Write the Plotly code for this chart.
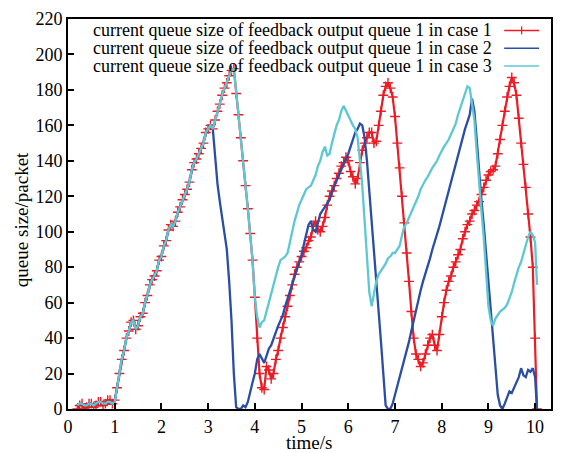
import plotly.graph_objects as go

# ---------------- data ----------------
TIME = [0.20, 0.25, 0.30, 0.35, 0.40, 0.45, 0.50, 0.55, 0.60, 0.65, 0.70, 0.75, 0.80, 0.85, 0.90, 0.95, 1.00,
        1.05, 1.10, 1.15, 1.20, 1.25, 1.30, 1.35, 1.40, 1.45, 1.50, 1.55, 1.60, 1.65, 1.70, 1.75, 1.80, 1.85, 1.90, 1.95, 2.00,
        2.05, 2.10, 2.15, 2.20, 2.25, 2.30, 2.35, 2.40, 2.45, 2.50, 2.55, 2.60, 2.65, 2.70, 2.75, 2.80, 2.85, 2.90, 2.95, 3.00,
        3.05, 3.10, 3.15, 3.20, 3.25, 3.30, 3.35, 3.40, 3.45, 3.50, 3.55, 3.60, 3.65, 3.70, 3.75, 3.80, 3.85, 3.90, 3.95, 4.00,
        4.05, 4.10, 4.15, 4.20, 4.25, 4.30, 4.35, 4.40, 4.45, 4.50, 4.55, 4.60, 4.65, 4.70, 4.75, 4.80, 4.85, 4.90, 4.95, 5.00,
        5.05, 5.10, 5.15, 5.20, 5.25, 5.30, 5.35, 5.40, 5.45, 5.50, 5.55, 5.60, 5.65, 5.70, 5.75, 5.80, 5.85, 5.90, 5.95, 6.00,
        6.05, 6.10, 6.15, 6.20, 6.25, 6.30, 6.35, 6.40, 6.45, 6.50, 6.55, 6.60, 6.65, 6.70, 6.75, 6.80, 6.85, 6.90, 6.95, 7.00,
        7.05, 7.10, 7.15, 7.20, 7.25, 7.30, 7.35, 7.40, 7.45, 7.50, 7.55, 7.60, 7.65, 7.70, 7.75, 7.80, 7.85, 7.90, 7.95, 8.00,
        8.05, 8.10, 8.15, 8.20, 8.25, 8.30, 8.35, 8.40, 8.45, 8.50, 8.55, 8.60, 8.65, 8.70, 8.75, 8.80, 8.85, 8.90, 8.95, 9.00,
        9.05, 9.10, 9.15, 9.20, 9.25, 9.30, 9.35, 9.40, 9.45, 9.50, 9.55, 9.60, 9.65, 9.70, 9.75, 9.80, 9.85, 9.90, 9.95, 10.00,
        10.04]

CASE1 = [0, 2, 3, 0, 1, 3, 3, 1, 2, 4, 4, 2, 3, 5, 5, 3, 5,
         12, 20, 28, 33, 40, 44, 49, 50, 45, 47, 52, 54, 60, 64, 70, 73, 75, 78, 84, 86,
         92, 95, 101, 104, 103, 106, 111, 114, 118, 121, 124, 128, 135, 139, 141, 144, 147, 150, 156, 158,
         160, 158, 163, 168, 172, 177, 181, 184, 188, 191, 192, 178, 166, 153, 140, 126, 113, 99, 84, 63,
         40, 20, 12, 11, 24, 22, 17, 20, 28, 33, 40, 46, 52, 58, 64, 70, 76, 80, 83, 86,
         89, 91, 95, 97, 103, 106, 101, 100, 103, 108, 115, 120, 123, 126, 130, 133, 137, 139, 142, 140,
         134, 131, 127, 130, 139, 146, 150, 153, 156, 156, 150, 151, 160, 168, 177, 182, 184, 181, 176, 165,
         150, 136, 120, 105, 88, 72, 55, 40, 31, 28, 24, 26, 31, 36, 40, 42, 36, 33, 42, 52,
         60, 67, 72, 75, 80, 83, 87, 90, 96, 100, 104, 106, 110, 112, 115, 117, 121, 125, 129, 132,
         134, 135, 137, 144, 152, 160, 168, 176, 182, 187, 184, 177, 164, 150, 138, 125, 110, 97, 80, 40,
         0]

CASE2 = [2, 3, 3, 2, 2, 3, 3, 2, 3, 4, 4, 3, 3, 4, 4, 3, 4,
         12, 20, 28, 33, 40, 44, 49, 50, 45, 47, 52, 54, 60, 64, 70, 73, 75, 78, 84, 86,
         92, 95, 101, 104, 103, 106, 111, 114, 118, 121, 124, 128, 135, 139, 141, 144, 147, 150, 156, 158,
         160, 158, 140, 127, 117, 108, 100, 90, 72, 50, 20, 1, 0, 0, 2, 1, 4, 10, 15, 20,
         28, 31, 28, 26, 30, 34, 36, 40, 44, 47, 50, 53, 58, 62, 66, 70, 74, 78, 83, 87,
         93, 98, 104, 106, 101, 100, 105, 110, 112, 114, 116, 118, 122, 126, 129, 132, 135, 137, 140, 144,
         148, 152, 156, 158, 161, 160, 153, 140, 122, 106, 88, 71, 55, 38, 20, 2, 0, 0, 3, 8,
         13, 18, 22, 27, 33, 38, 44, 50, 56, 62, 67, 72, 76, 80, 85, 90, 94, 98, 103, 108,
         113, 118, 123, 128, 134, 139, 144, 149, 153, 158, 162, 166, 175, 168, 152, 133, 118, 104, 88, 70,
         53, 36, 22, 8, 2, 0, 3, 6, 10, 9, 12, 14, 18, 23, 19, 18, 22, 21, 23, 18,
         0]

CASE3 = [2, 3, 3, 2, 2, 3, 3, 2, 3, 4, 4, 3, 3, 4, 4, 3, 4,
         12, 20, 28, 33, 40, 44, 49, 50, 45, 47, 52, 54, 60, 64, 70, 73, 75, 78, 84, 86,
         92, 95, 101, 104, 103, 106, 111, 114, 118, 121, 124, 128, 135, 139, 141, 144, 147, 150, 156, 158,
         160, 158, 163, 168, 172, 177, 181, 184, 188, 191, 192, 178, 166, 153, 140, 126, 113, 99, 84, 63,
         52, 46, 49, 50, 55, 60, 66, 70, 76, 80, 84, 85, 86, 88, 95, 100, 106, 111, 115, 118,
         121, 124, 125, 126, 129, 132, 137, 140, 145, 148, 143, 144, 150, 155, 160, 163, 168, 171, 168, 165,
         162, 160, 158, 153, 140, 126, 106, 86, 66, 58, 65, 72, 76, 78, 80, 82, 85, 86, 88, 88,
         90, 92, 98, 103, 105, 108, 112, 115, 118, 120, 124, 127, 129, 131, 134, 136, 138, 140, 143, 146,
         148, 150, 152, 155, 158, 161, 166, 170, 175, 178, 182, 181, 172, 163, 145, 127, 112, 97, 78, 58,
         50, 47, 51, 53, 55, 56, 57, 59, 62, 66, 71, 76, 80, 83, 88, 92, 97, 100, 98, 94,
         70]

SERIES_NAMES = ["current queue size of feedback output queue 1 in case 1",
                "current queue size of feedback output queue 1 in case 2",
                "current queue size of feedback output queue 1 in case 3"]
X_TICKS = [0, 1, 2, 3, 4, 5, 6, 7, 8, 9, 10]
Y_TICKS = [0, 20, 40, 60, 80, 100, 120, 140, 160, 180, 200, 220]
X_TITLE = "time/s"
Y_TITLE = "queue size/packet"

# ---------------- style ----------------
RED = "#ec1c24"
BLUE = "#2a4ea6"
CYAN = "#5ec8d2"
FONT = "Liberation Serif"

fig = go.Figure()
fig.add_trace(go.Scatter(
    x=TIME, y=CASE1, mode="lines+markers", name=SERIES_NAMES[0],
    line=dict(color=RED, width=2.2),
    marker=dict(symbol="cross-thin", size=7, line=dict(color=RED, width=1.4)),
    showlegend=False))
fig.add_trace(go.Scatter(
    x=TIME, y=CASE2, mode="lines", name=SERIES_NAMES[1],
    line=dict(color=BLUE, width=2.3), showlegend=False))
fig.add_trace(go.Scatter(
    x=TIME, y=CASE3, mode="lines", name=SERIES_NAMES[2],
    line=dict(color=CYAN, width=2.3), showlegend=False))

W, H = 562, 453
ML, MR, MT, MB = 68, 9, 15, 44
PW, PH = W - ML - MR, H - MT - MB


def px_x(px):
    return (px - ML) / PW


def px_y(py):
    return (H - MB - py) / PH


annotations = []
shapes = []
legend_rows = [26.5, 44.5, 62.5]
legend_colors = [RED, BLUE, CYAN]
for name, row, col in zip(SERIES_NAMES, legend_rows, legend_colors):
    annotations.append(dict(
        text=name, xref="paper", yref="paper", x=px_x(496), y=px_y(row),
        xanchor="right", yanchor="middle", showarrow=False,
        font=dict(family=FONT, size=18, color="black")))
    shapes.append(dict(
        type="line", xref="paper", yref="paper",
        x0=px_x(506), x1=px_x(541), y0=px_y(row), y1=px_y(row),
        line=dict(color=col, width=1.5)))
# plus symbol on the case 1 legend sample
shapes.append(dict(
    type="line", xref="paper", yref="paper",
    x0=px_x(523.5), x1=px_x(523.5), y0=px_y(legend_rows[0] - 4), y1=px_y(legend_rows[0] + 4),
    line=dict(color=RED, width=1.3)))

annotations.append(dict(
    text=Y_TITLE, xref="paper", yref="paper", x=px_x(22), y=px_y(218),
    xanchor="center", yanchor="middle", textangle=-90, showarrow=False,
    font=dict(family=FONT, size=19, color="black")))
annotations.append(dict(
    text=X_TITLE, xref="paper", yref="paper", x=px_x(310), y=px_y(443),
    xanchor="center", yanchor="middle", showarrow=False,
    font=dict(family=FONT, size=19, color="black")))

fig.update_layout(
    width=W, height=H,
    margin=dict(l=ML, r=MR, t=MT, b=MB, pad=0),
    paper_bgcolor="white", plot_bgcolor="white",
    font=dict(family=FONT, size=18, color="black"),
    annotations=annotations, shapes=shapes,
)
fig.update_xaxes(
    range=[0, 10.34], tickmode="array", tickvals=X_TICKS,
    ticks="inside", ticklen=6, tickwidth=2, tickcolor="black",
    showline=True, linewidth=2, linecolor="black", mirror=True,
    showgrid=False, zeroline=False,
    tickfont=dict(family=FONT, size=18, color="black"))
fig.update_yaxes(
    range=[0, 220], tickmode="array", tickvals=Y_TICKS,
    ticks="inside", ticklen=6, tickwidth=2, tickcolor="black",
    showline=True, linewidth=2, linecolor="black", mirror=True,
    showgrid=False, zeroline=False,
    tickfont=dict(family=FONT, size=18, color="black"))

fig.write_html("out.html",
               config={"displayModeBar": False},
               post_script="document.body.style.margin='0px';document.body.style.padding='0px';")
